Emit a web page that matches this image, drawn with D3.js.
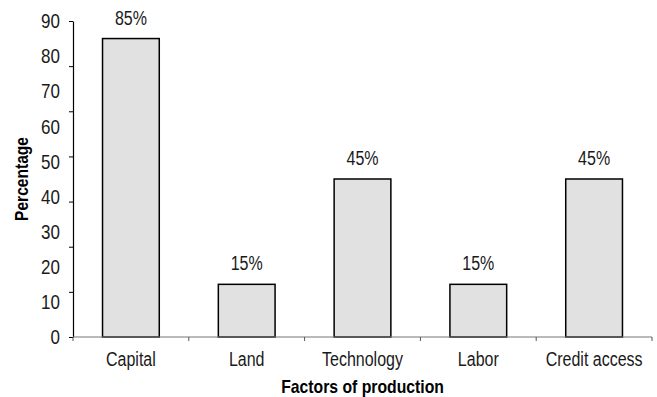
<!DOCTYPE html>
<html>
<head>
<meta charset="utf-8">
<script src="https://cdn.jsdelivr.net/npm/d3@7"></script>
<style>
  body { margin: 0; background: #fff; }
  svg text { font-family: "Liberation Sans", Arial, sans-serif; fill: #1a1a1a; }
</style>
</head>
<body>
<div id="chart"></div>
<script>
// Data
var categories = ["Capital", "Land", "Technology", "Labor", "Credit access"];
var values = [85, 15, 45, 15, 45];
var yTickLabels = [0, 10, 20, 30, 40, 50, 60, 70, 80, 90];
var yTickMarkCount = 7; // the tick marks do not line up with the labels in the original

var width = 657, height = 397;
var margin = { top: 21, right: 5, bottom: 60, left: 73 };
var narrow = 0.8; // squeeze Liberation Sans to look like a narrow face

var svg = d3.select('#chart').append('svg')
  .attr('width', width)
  .attr('height', height);

// place a text at (px, py) squeezed horizontally
function placeText(sel, px, py, rot, sx) {
  sel.attr('transform', function(d, i) {
    var xx = typeof px === 'function' ? px(d, i) : px;
    var yy = typeof py === 'function' ? py(d, i) : py;
    return 'translate(' + xx + ',' + yy + ')' + (rot ? ' rotate(' + rot + ')' : '') + ' scale(' + sx + ',1)';
  });
  return sel;
}

var x = d3.scaleBand()
  .domain(categories)
  .range([margin.left, width - margin.right])
  .paddingInner(0.51)
  .paddingOuter(0.255);

var y = d3.scaleLinear()
  .domain([0, 90])
  .range([height - margin.bottom, margin.top]);

// Bars
svg.append('g').selectAll('rect')
  .data(values)
  .enter().append('rect')
    .attr('x', function(d, i) { return x(categories[i]); })
    .attr('y', function(d) { return y(d); })
    .attr('width', x.bandwidth())
    .attr('height', function(d) { return y(0) - y(d); })
    .attr('fill', '#e1e1e1')
    .attr('stroke', '#000')
    .attr('stroke-width', 1.5);

// Value labels
var vl = svg.append('g').selectAll('text')
  .data(values)
  .enter().append('text')
    .attr('text-anchor', 'middle')
    .attr('font-size', 20)
    .text(function(d) { return d + '%'; });
placeText(vl, function(d, i) { return x(categories[i]) + x.bandwidth() / 2; },
  function(d) { return y(d) - 14; }, 0, narrow);

// Y axis: line + tick marks
var markVals = d3.range(yTickMarkCount + 1).map(function(i) { return 90 * i / yTickMarkCount; });
var yAxis = svg.append('g')
  .attr('transform', 'translate(' + margin.left + ',0)')
  .call(d3.axisLeft(y).tickValues(markVals).tickFormat('').tickSize(4).tickSizeOuter(0));
yAxis.select('.domain').attr('stroke', '#000').attr('stroke-width', 1.2);
yAxis.selectAll('.tick line').attr('stroke', '#000');

// Y tick labels
var yl = svg.append('g').selectAll('text')
  .data(yTickLabels)
  .enter().append('text')
    .attr('dy', '0.36em')
    .attr('text-anchor', 'end')
    .attr('font-size', 20)
    .text(function(d) { return d; });
placeText(yl, 60, function(d) { return y(d); }, 0, 0.85);

// X axis
var xBounds = categories.map(function(c) { return x(c) - x.step() * x.paddingInner() / 2; });
xBounds.push(width - margin.right);
svg.append('line')
  .attr('x1', margin.left).attr('x2', width - margin.right)
  .attr('y1', y(0)).attr('y2', y(0))
  .attr('stroke', '#777').attr('stroke-width', 1.2);
svg.append('g').selectAll('line')
  .data(xBounds)
  .enter().append('line')
    .attr('x1', function(d) { return d; }).attr('x2', function(d) { return d; })
    .attr('y1', y(0)).attr('y2', y(0) + 4)
    .attr('stroke', '#555');

var xl = svg.append('g').selectAll('text')
  .data(categories)
  .enter().append('text')
    .attr('text-anchor', 'middle')
    .attr('font-size', 20)
    .text(function(d) { return d; });
placeText(xl, function(d) { return x(d) + x.bandwidth() / 2; }, y(0) + 29, 0, narrow);

// Axis titles
placeText(svg.append('text')
  .attr('text-anchor', 'middle')
  .attr('font-size', 19)
  .attr('font-weight', 'bold')
  .style('fill', '#000')
  .text('Factors of production'), (margin.left + width - margin.right) / 2, 393, 0, 0.83);

placeText(svg.append('text')
  .attr('text-anchor', 'middle')
  .attr('font-size', 19)
  .attr('font-weight', 'bold')
  .style('fill', '#000')
  .text('Percentage'), 28, 179, -90, 0.82);
</script>
</body>
</html>
